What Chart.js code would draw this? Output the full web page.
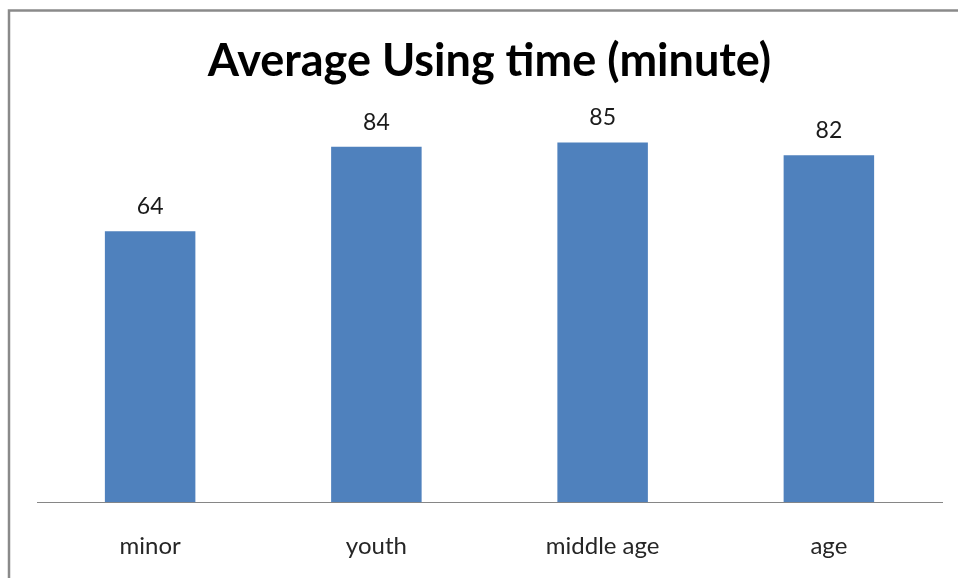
<!DOCTYPE html>
<html>
<head>
<meta charset="utf-8">
<script src="https://cdn.jsdelivr.net/npm/chart.js@4"></script>
<style>
  html, body { margin: 0; padding: 0; background: #ffffff; }
  #wrap { position: relative; width: 958px; height: 578px; }
</style>
</head>
<body>
<div id="wrap"><canvas id="chart" width="958" height="578"></canvas></div>
<script>
// Average daily usage by age group, in minutes
const categories = ['minor', 'youth', 'middle age', 'age'];
const minutes = [64, 84, 85, 82];
const titleText = 'Average Using time (minute)';

// Frame around the whole chart, open on the right and bottom edges
const framePlugin = {
  id: 'frame',
  beforeDraw(chart) {
    const ctx = chart.ctx;
    ctx.save();
    ctx.fillStyle = '#ffffff';
    ctx.fillRect(0, 0, chart.width, chart.height);
    ctx.strokeStyle = '#8a8a8a';
    ctx.lineWidth = 2.5;
    ctx.strokeRect(9, 10.5, 1000, 1000);
    ctx.restore();
  }
};

// Value written above each bar
const valueLabels = {
  id: 'valueLabels',
  afterDatasetsDraw(chart) {
    const ctx = chart.ctx;
    const meta = chart.getDatasetMeta(0);
    ctx.save();
    ctx.font = '23px Lato';
    ctx.fillStyle = '#1a1a1a';
    ctx.textAlign = 'center';
    ctx.textBaseline = 'alphabetic';
    meta.data.forEach((bar, i) => {
      ctx.fillText(String(minutes[i]), bar.x, bar.y - 17);
    });
    ctx.restore();
  }
};

new Chart(document.getElementById('chart'), {
  type: 'bar',
  data: {
    labels: categories,
    datasets: [{
      data: minutes,
      backgroundColor: '#4F81BD',
      borderWidth: 0,
      barPercentage: 0.4,
      categoryPercentage: 1.0
    }]
  },
  options: {
    responsive: false,
    animation: false,
    layout: { padding: { left: 37, right: 16, top: 0, bottom: -13 } },
    plugins: {
      legend: { display: false },
      tooltip: { enabled: false },
      title: {
        display: true,
        text: titleText,
        color: '#000000',
        font: { family: 'Lato', size: 45, weight: 'bold', lineHeight: 0.9 },
        padding: { top: 41.5, bottom: -3 }
      }
    },
    scales: {
      x: {
        grid: { display: false, drawTicks: false },
        border: { display: true, color: '#868686', width: 1 },
        ticks: {
          color: '#262626',
          font: { family: 'Lato', size: 24 },
          padding: 30
        }
      },
      y: {
        display: false,
        min: 0,
        max: 100
      }
    }
  },
  plugins: [framePlugin, valueLabels]
});
</script>
</body>
</html>
